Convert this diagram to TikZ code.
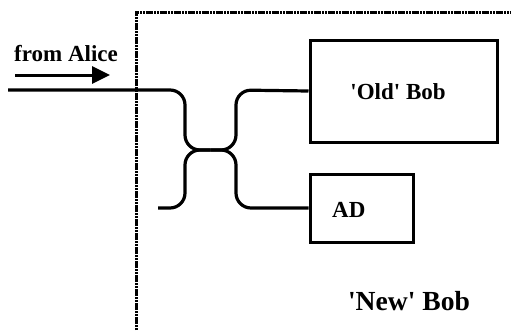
\documentclass[tikz,border=0pt]{standalone}
\usepackage{fontspec}
\setmainfont{Liberation Serif}
\usetikzlibrary{arrows.meta}
\begin{document}
\begin{tikzpicture}[x=1pt,y=-1pt,
  boxstyle/.style={draw,line width=3pt,minimum width=0pt,minimum height=0pt,inner sep=0pt},
  wire/.style={line width=3.2pt,rounded corners=15pt},
  border/.style={line width=3pt,dash pattern=on 2.2pt off 0.6pt},
  lbl/.style={font=\bfseries\fontsize{23}{26}\selectfont,inner sep=0pt}]
\useasboundingbox (0,0) rectangle (511,330);
% border
\coordinate (bl) at (136,330);
\coordinate (tl) at (136,12);
\coordinate (tr) at (511,12);
\draw[border] (bl) -- (tl) -- (tr);
% boxes
\node[boxstyle,minimum width=187pt,minimum height=102pt] (old) at (403.5,91) {};
\node[lbl] (oldt) at (398,92) {\textquotesingle Old\textquotesingle{} Bob};
\node[boxstyle,minimum width=103pt,minimum height=68pt] (ad) at (361.5,208) {};
\node[lbl,anchor=west] (adt) at (332,210) {AD};
\node[font=\bfseries\fontsize{27.6}{30}\selectfont,inner sep=0pt] (newbob) at (409,301) {\textquotesingle New\textquotesingle{} Bob};
% from Alice
\node[lbl,anchor=west] (alice) at (14,54) {from Alice};
\coordinate (a1) at (15,75);
\coordinate (a2) at (110,75);
\draw[line width=3pt,-{Triangle[length=18pt,width=17pt]}] (a1) -- (a2);
% wires
\coordinate (in) at (8,90);
\coordinate (mid) at (210.5,150);
\coordinate (lo) at (158,208);
\draw[wire] (in) -- (185,90) -- (185,150) -- (mid);
\draw[wire] (old.west) -- (236,90) -- (236,150) -- (mid);
\draw[wire] (lo) -- (185,208) -- (185,150) -- (mid);
\draw[wire] (ad.west) -- (236,208) -- (236,150) -- (mid);
\end{tikzpicture}
\end{document}
